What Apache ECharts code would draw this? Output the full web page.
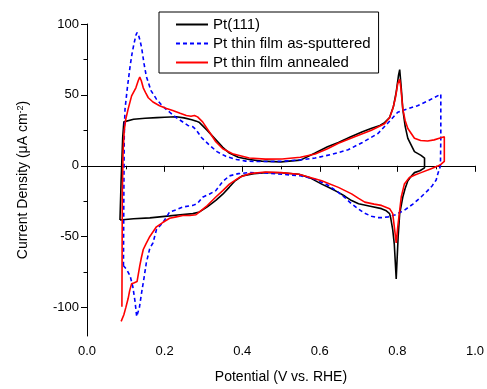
<!DOCTYPE html>
<html><head><meta charset="utf-8">
<script src="https://cdn.jsdelivr.net/npm/echarts@6/dist/echarts.min.js"></script>
<style>html,body{margin:0;padding:0;background:#fff}#c{width:487px;height:389px}</style>
</head><body><div id="c"></div>
<script>
const seriesNames = ['Pt(111)', 'Pt thin film as-sputtered', 'Pt thin film annealed'];
const yTickValues = [-100, -50, 0, 50, 100];
const yMinorTickValues = [-75, -25, 25, 75];

// Pt(111): anodic then cathodic sweep
const ptX = [0.085,0.088,0.092,0.095,0.10,0.12,0.15,0.18,0.20,0.23,0.25,0.27,0.282,0.29,0.31,0.33,0.35,0.367,0.39,0.418,0.45,0.50,0.55,0.588,0.62,0.648,0.68,0.71,0.732,0.755,0.767,0.78,0.79,0.797,0.803,0.806,0.810,0.814,0.820,0.827,0.844,0.861,0.870,
  0.870,0.858,0.844,0.835,0.827,0.820,0.814,0.806,0.802,0.797,0.792,0.788,0.783,0.780,0.770,0.759,0.730,0.700,0.682,0.665,0.648,0.625,0.605,0.575,0.546,0.50,0.46,0.43,0.40,0.38,0.367,0.35,0.332,0.31,0.29,0.273,0.24,0.213,0.162,0.12,0.085];
const ptY = [-38.2,-10,20,31,32.3,32.8,33.5,34,34.3,34.6,33.8,32.5,31.5,30.5,25,19,13,9,6,4.4,3.3,2.8,4,9,13.5,16.5,20.5,24,26.3,28.5,30.5,34,42,52,64,67.8,55,40,28,19.4,10,7.4,5.5,
  -1.4,-3.5,-4.8,-7.5,-10.6,-16,-22,-33.7,-50,-79.7,-55,-45,-37,-33.7,-31.5,-30.2,-28.5,-26.8,-24.5,-21.5,-18.7,-15.5,-12.9,-8.5,-6,-4.9,-4.8,-5.5,-7.1,-11,-15,-20,-24.4,-29,-32.5,-33.7,-34.5,-35.3,-36.7,-37.3,-38.2];

// Pt thin film as-sputtered
const spX = [0.094,0.095,0.096,0.097,0.098,0.104,0.111,0.116,0.121,0.126,0.129,0.133,0.137,0.141,0.147,0.153,0.165,0.179,0.195,0.213,0.23,0.247,0.26,0.273,0.281,0.295,0.315,0.335,0.358,0.385,0.409,0.45,0.503,0.55,0.588,0.63,0.673,0.71,0.75,0.775,0.801,0.83,0.852,0.88,0.912,
  0.912,0.911,0.905,0.90,0.89,0.878,0.861,0.84,0.818,0.795,0.776,0.76,0.75,0.733,0.716,0.70,0.682,0.665,0.648,0.62,0.588,0.55,0.503,0.46,0.418,0.39,0.367,0.35,0.332,0.315,0.298,0.285,0.273,0.247,0.23,0.213,0.196,0.179,0.17,0.162,0.153,0.147,0.141,0.135,0.128,0.124,0.118,0.111,0.102,0.094];
const spY = [-70.5,-20,20,32,40,55,70,79,86,92,94,92,88,83,72,63,53,47,42,37.8,34,30.9,28.5,27.5,25.5,20,14.7,10,6.7,4.5,3.3,3,3.2,4.2,5.5,8,11.3,16.5,22.8,30,37.8,40.5,42.4,46,50.5,
  20,0,-5,-10,-14,-17.5,-22,-27,-31.3,-34.5,-36,-36.5,-36.5,-35.5,-33.5,-30.5,-26.8,-22.5,-18.7,-13.5,-9.5,-7,-6,-5,-4.8,-5.5,-7.1,-11,-17.5,-20,-22.1,-26.5,-27.9,-29,-31,-32.5,-40,-45,-54.4,-58,-68.3,-79,-89,-100,-106.3,-96,-85,-77.5,-73,-70.5];

// Pt thin film annealed
const anX = [0.09,0.0905,0.091,0.093,0.096,0.10,0.106,0.115,0.126,0.132,0.136,0.14,0.145,0.152,0.158,0.17,0.187,0.205,0.221,0.24,0.256,0.268,0.277,0.285,0.298,0.315,0.332,0.35,0.375,0.418,0.46,0.503,0.55,0.588,0.62,0.648,0.69,0.733,0.767,0.78,0.788,0.795,0.801,0.806,0.809,0.814,0.82,0.827,0.844,0.86,0.878,0.895,0.908,0.921,
  0.921,0.912,0.904,0.887,0.861,0.845,0.831,0.818,0.81,0.801,0.797,0.793,0.788,0.78,0.759,0.74,0.716,0.70,0.682,0.648,0.605,0.546,0.50,0.46,0.42,0.392,0.367,0.35,0.332,0.31,0.29,0.281,0.265,0.247,0.23,0.213,0.195,0.179,0.162,0.152,0.145,0.14,0.136,0.129,0.122,0.115,0.11,0.106,0.10,0.095,0.088];
const anY = [-99.4,-60,-20,10,25,33,40,49.3,55,60,62.5,60,55,51,48,45,42.4,40.5,39,37,35.5,35,35.5,34.5,31,24,17,12,8.5,5.5,4.7,4.8,6,8.3,12,15.9,20.5,25.1,29.7,34,40,48,58,60.9,55,40,32,26.3,19.4,17.8,17.5,18.3,19.4,20.5,
  3.2,1,-0.2,-2,-4.8,-6.5,-8.3,-12.9,-22,-43,-54.4,-45,-33.7,-30.2,-27.9,-27,-25.6,-23,-19.8,-15.2,-10.6,-6,-4.8,-4.4,-5.5,-8.3,-12.9,-17.5,-22,-28,-32.5,-34.5,-35,-35,-36,-37,-40,-43,-49.8,-55,-59,-65,-70.5,-81.6,-82.5,-83.2,-88,-93.6,-100,-105,-109.7];

const zip = (xs, ys) => xs.map((x, i) => [x, ys[i]]);
const FONT = "Arial, 'Liberation Sans', sans-serif";

const chart = echarts.init(document.getElementById('c'), null, {renderer: 'canvas'});
chart.setOption({
  animation: false,
  backgroundColor: '#fff',
  textStyle: {fontFamily: FONT, color: '#000'},
  grid: {left: 87, right: 8, top: 24, bottom: 47, containLabel: false},
  legend: {
    data: seriesNames, orient: 'vertical', left: 159, top: 12,
    borderColor: '#000', borderWidth: 1, borderRadius: 0,
    padding: [5, 8, 3, 16], itemWidth: 32, itemHeight: 14, itemGap: 4,
    itemStyle: {opacity: 0},
    textStyle: {fontSize: 15, fontFamily: FONT, color: '#000'}
  },
  xAxis: {
    type: 'value', min: 0, max: 1, interval: 0.2,
    axisLine: {lineStyle: {color: '#000', width: 1}},
    axisTick: {length: 6, lineStyle: {color: '#000'}},
    minorTick: {show: true, splitNumber: 2, length: 3.5, lineStyle: {color: '#000'}},
    splitLine: {show: false},
    axisLabel: {formatter: v => v.toFixed(1), fontSize: 13, color: '#000', margin: 9, fontFamily: FONT},
    name: 'Potential (V vs. RHE)', nameLocation: 'middle', nameGap: 34,
    nameTextStyle: {fontSize: 14, color: '#000', fontFamily: FONT}
  },
  yAxis: [{
    type: 'value', min: -120, max: 100,
    axisLine: {show: true, lineStyle: {color: '#000', width: 1}},
    axisTick: {show: true, length: 6, customValues: yTickValues, lineStyle: {color: '#000'}},
    splitLine: {show: false},
    axisLabel: {customValues: yTickValues, fontSize: 13, color: '#000', margin: 8, fontFamily: FONT},
    name: 'Current Density (μA cm{sup|-2})', nameLocation: 'middle', nameGap: 57,
    nameTextStyle: {fontSize: 14, color: '#000', fontFamily: FONT,
      rich: {sup: {fontSize: 9, verticalAlign: 'top', fontFamily: FONT, color: '#000'}}}
  }, {
    type: 'value', min: -120, max: 100, position: 'left',
    axisLine: {show: false},
    axisTick: {show: true, length: 3.5, customValues: yMinorTickValues, lineStyle: {color: '#000'}},
    axisLabel: {show: false}, splitLine: {show: false}
  }],
  series: [
    {name: seriesNames[0], type: 'line', data: zip(ptX, ptY), symbol: 'none',
     lineStyle: {color: '#000', width: 1.6}, itemStyle: {color: '#000'}},
    {name: seriesNames[1], type: 'line', data: zip(spX, spY), symbol: 'none',
     lineStyle: {color: '#0000ff', width: 1.6, type: [4, 3]}, itemStyle: {color: '#0000ff'}},
    {name: seriesNames[2], type: 'line', data: zip(anX, anY), symbol: 'none',
     lineStyle: {color: '#ff0000', width: 1.6}, itemStyle: {color: '#ff0000'}}
  ]
});
</script></body></html>
